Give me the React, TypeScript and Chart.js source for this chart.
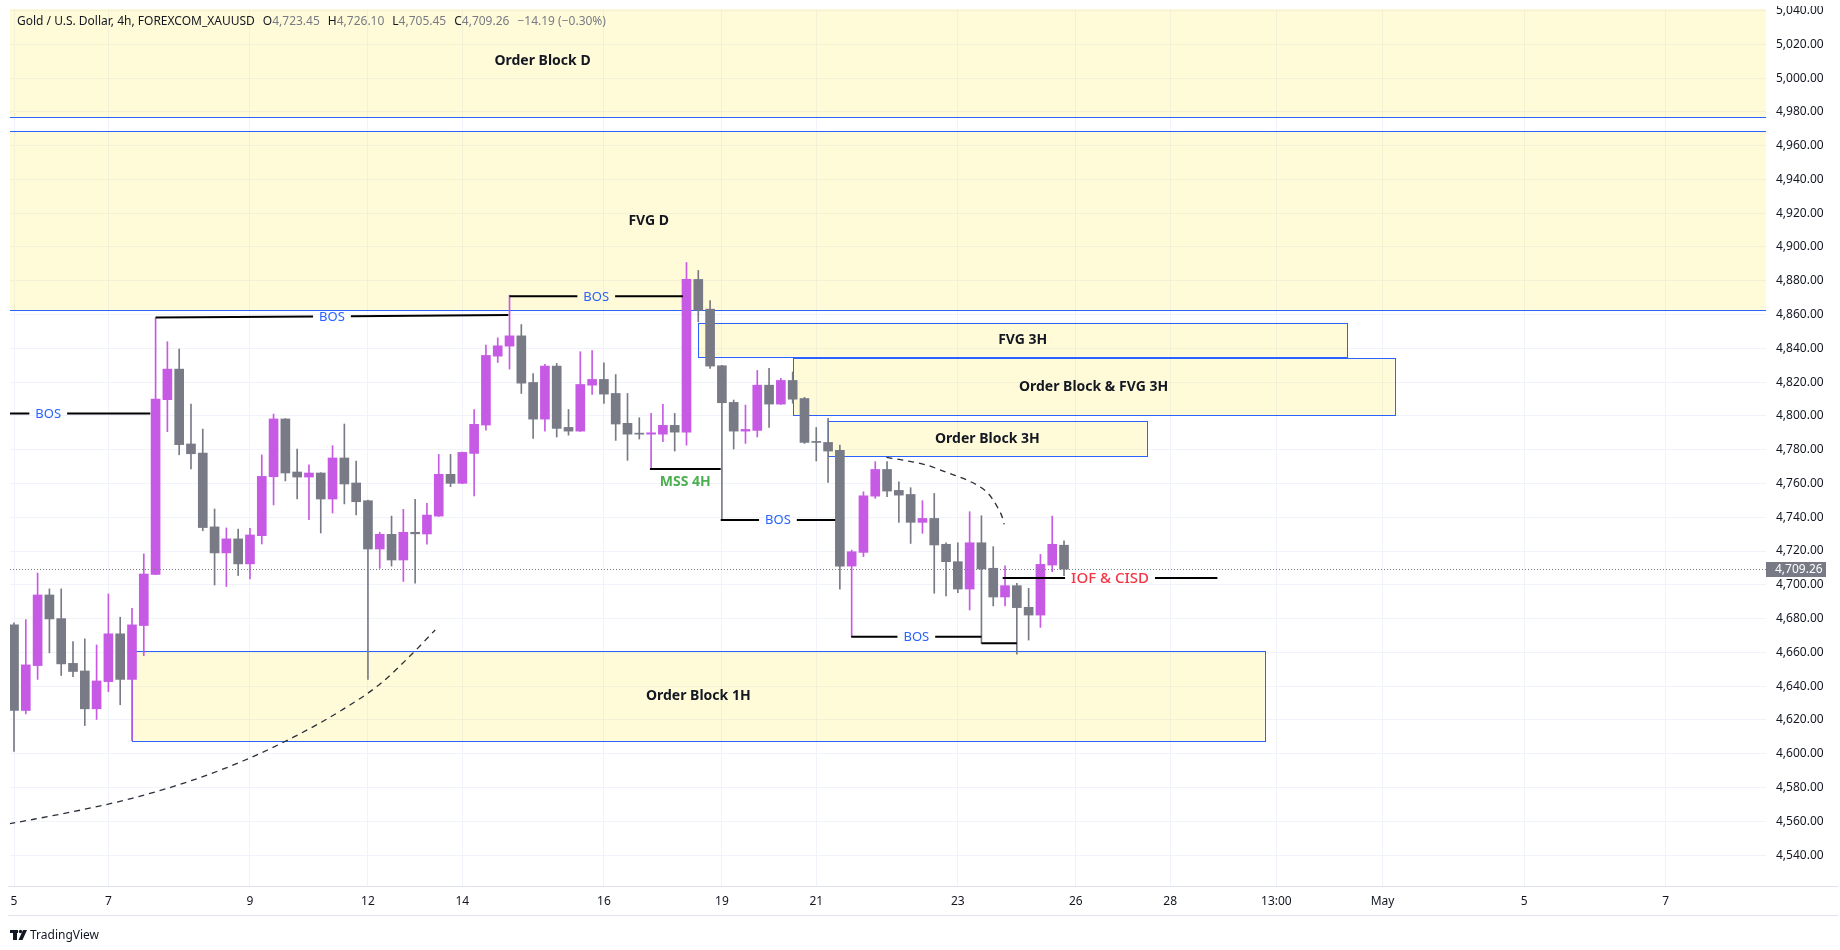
import React, { useEffect, useRef } from 'react';
import { Chart, registerables } from 'chart.js';

Chart.register(...registerables);

// ---------- candle data (4h bars, bar index 0 = Apr 5) ----------
const opens = [
  4676.3, 4625.6, 4652.2, 4694.0, 4680.0, 4653.5, 4649.0, 4626.6, 4642.7, 4671.0,
  4644.0, 4675.9, 4706.2, 4809.6, 4827.7, 4783.4, 4778.0, 4734.3, 4718.9, 4727.2,
  4712.4, 4729.1, 4764.0, 4798.2, 4766.8, 4763.8, 4766.2, 4750.8, 4775.1, 4760.3,
  4749.8, 4721.2, 4729.9, 4714.7, 4731.1, 4730.1, 4740.7, 4765.4, 4760.1, 4777.8,
  4794.6, 4835.4, 4841.3, 4847.4, 4819.8, 4798.1, 4829.5, 4793.2, 4791.0, 4818.2,
  4821.6, 4813.3, 4795.6, 4789.6, 4789.2, 4789.2, 4794.4, 4790.4, 4880.8, 4863.2,
  4829.7, 4808.0, 4791.0, 4791.4, 4818.2, 4807.0, 4821.0, 4810.3, 4784.9, 4784.3,
  4779.6, 4711.1, 4719.2, 4752.5, 4768.3, 4755.9, 4753.5, 4737.0, 4739.3, 4724.0,
  4713.7, 4697.5, 4724.9, 4709.8, 4692.8, 4699.5, 4686.7, 4682.1, 4711.7, 4723.45,
];
const highs = [
  4677.5, 4679.4, 4707.0, 4697.6, 4697.6, 4666.4, 4668.0, 4664.4, 4694.6, 4680.8,
  4686.1, 4718.3, 4858.1, 4843.9, 4839.6, 4807.0, 4792.2, 4744.9, 4733.7, 4733.0,
  4733.5, 4776.9, 4801.1, 4798.4, 4780.4, 4771.0, 4766.4, 4782.4, 4795.2, 4773.3,
  4750.2, 4731.1, 4740.7, 4744.7, 4750.6, 4748.2, 4777.2, 4777.2, 4778.6, 4803.8,
  4841.9, 4846.2, 4871.5, 4854.1, 4825.1, 4830.5, 4831.1, 4803.8, 4838.0, 4838.7,
  4831.4, 4824.5, 4813.3, 4798.9, 4801.5, 4806.8, 4801.5, 4890.8, 4886.1, 4868.3,
  4830.0, 4809.4, 4806.4, 4826.9, 4828.1, 4822.2, 4826.0, 4811.0, 4793.2, 4798.5,
  4782.7, 4720.6, 4755.1, 4772.9, 4772.9, 4761.0, 4757.5, 4749.8, 4754.1, 4724.9,
  4724.9, 4743.3, 4740.9, 4722.6, 4711.3, 4700.9, 4697.9, 4718.0, 4740.7, 4726.10,
];
const lows = [
  4601.3, 4623.6, 4644.0, 4659.7, 4646.3, 4645.7, 4616.7, 4620.3, 4636.8, 4629.0,
  4607.8, 4658.1, 4706.0, 4790.7, 4777.0, 4768.6, 4732.0, 4699.9, 4699.0, 4705.5,
  4703.5, 4724.2, 4747.3, 4761.5, 4750.8, 4738.6, 4730.7, 4742.5, 4747.9, 4741.4,
  4644.0, 4709.8, 4711.1, 4702.0, 4701.0, 4724.1, 4740.5, 4758.1, 4759.9, 4752.6,
  4791.6, 4831.6, 4827.7, 4813.3, 4786.7, 4791.0, 4787.5, 4788.6, 4790.8, 4812.7,
  4807.4, 4785.5, 4773.7, 4786.3, 4768.5, 4784.7, 4779.2, 4782.7, 4855.7, 4828.1,
  4738.4, 4780.4, 4783.7, 4787.5, 4793.2, 4806.8, 4807.5, 4783.7, 4773.3, 4760.6,
  4697.5, 4669.3, 4716.7, 4751.2, 4752.2, 4737.0, 4724.5, 4730.5, 4695.0, 4693.4,
  4695.4, 4685.1, 4665.4, 4687.5, 4687.5, 4658.9, 4667.3, 4674.8, 4707.8, 4705.45,
];
const closes = [
  4625.6, 4652.6, 4694.0, 4679.8, 4653.2, 4648.7, 4626.6, 4643.1, 4671.0, 4644.0,
  4676.3, 4706.4, 4810.0, 4827.7, 4783.0, 4777.6, 4733.9, 4718.9, 4727.2, 4712.4,
  4729.5, 4764.2, 4798.2, 4766.2, 4763.8, 4766.2, 4750.8, 4775.1, 4759.7, 4749.2,
  4721.2, 4729.9, 4714.7, 4731.1, 4730.2, 4741.3, 4765.4, 4760.1, 4778.4, 4795.0,
  4835.8, 4841.5, 4847.4, 4819.4, 4798.1, 4829.5, 4792.6, 4791.0, 4818.6, 4821.6,
  4812.9, 4795.2, 4789.2, 4789.2, 4790.0, 4794.4, 4790.4, 4880.8, 4862.6, 4829.5,
  4807.8, 4791.0, 4792.0, 4818.2, 4807.0, 4821.0, 4809.9, 4784.3, 4784.3, 4779.2,
  4711.1, 4719.6, 4752.7, 4768.3, 4755.5, 4753.1, 4737.0, 4739.3, 4723.6, 4713.7,
  4697.5, 4724.9, 4709.4, 4692.8, 4699.5, 4686.5, 4682.1, 4712.1, 4724.0, 4709.26,
];

// ---------- axes ----------
const xTickBars = [0, 8, 20, 30, 38, 50, 60, 68, 80, 90, 98, 107, 116, 128, 140];
const xTickLabels = ['5', '7', '9', '12', '14', '16', '19', '21', '23', '26', '28', '13:00', 'May', '5', '7'];
const yTickValues = [
  4540, 4560, 4580, 4600, 4620, 4640, 4660, 4680, 4700, 4720, 4740, 4760, 4780,
  4800, 4820, 4840, 4860, 4880, 4900, 4920, 4940, 4960, 4980, 5000, 5020, 5040,
];
const xMin = -0.34;
const xMax = 148.5;
const yMin = 4521.7;
const yMax = 5040.9;

// ---------- zones (rectangles) ----------
const boxNames = ['Order Block D', 'FVG D', 'FVG 3H', 'Order Block & FVG 3H', 'Order Block 3H', 'Order Block 1H'];
const boxStart = [-20, -20, 58, 66, 69, 10];
const boxEnd = [200, 200, 113, 117, 96, 106];
const boxTop = [5100, 4968.5, 4855.3, 4834.2, 4797.0, 4660.9];
const boxBottom = [4977.0, 4862.6, 4835.1, 4800.5, 4776.0, 4607.6];
const boxLabelBar = [44.8, 53.8, 85.5, 91.5, 82.5, 58];
const boxLabelPrice = [5010.2, 4915.6, 4845.2, 4817.4, 4786.5, 4634.2];

// ---------- structure levels ----------
const levelNames = ['BOS', 'BOS', 'BOS', 'MSS 4H', 'BOS', 'BOS', '', 'IOF & CISD'];
const levelKinds = ['bos', 'bos', 'bos', 'mss', 'bos', 'bos', 'plain', 'iof'];
const levelStart = [-5.75, 12, 42, 53.9, 59.9, 70.96, 82, 83.8];
const levelEnd = [11.55, 41.9, 56.7, 59.9, 69.6, 82.0, 85, 102];
const levelPriceStart = [4801.5, 4858.2, 4870.8, 4768.5, 4738.4, 4669.3, 4665.4, 4704.0];
const levelPriceEnd = [4801.5, 4859.7, 4870.8, 4768.5, 4738.4, 4669.3, 4665.4, 4704.0];

// ---------- dashed curves ----------
const lowerCurveBars = [-0.4, 5.7, 10.0, 15.0, 19.4, 23.6, 27.8, 31.1, 33.8, 35.7];
const lowerCurvePrices = [4558.5, 4566.7, 4573.6, 4584.0, 4595.7, 4609.5, 4625.9, 4641.7, 4659.5, 4673.3];
const upperCurveBars = [73.95, 75.37, 77.35, 79.04, 80.45, 81.72, 82.43, 83.0, 83.41, 83.78, 83.92];
const upperCurvePrices = [4775.4, 4773.8, 4770.9, 4766.6, 4763.0, 4758.7, 4755.1, 4750.2, 4745.3, 4739.7, 4735.8];

// ---------- header ----------
const symbolTitle = 'Gold / U.S. Dollar, 4h, FOREXCOM_XAUUSD';
const lastChange = -14.19;
const lastChangePct = -0.3;

const FONT = '"Noto Sans", "Liberation Sans", sans-serif';
const BULL = '#c65ae4';
const BEAR = '#787b86';
const BLUE = '#2962ff';
const ZONE_FILL = 'rgba(254, 236, 80, 0.22)';
const TEXT = '#131722';

const fmt = (v: number) =>
  v.toLocaleString('en-US', { minimumFractionDigits: 2, maximumFractionDigits: 2 });

const crisp = (v: number) => Math.round(v) + 0.5;

const overlayPlugin = {
  id: 'tvOverlay',
  beforeDatasetsDraw(chart: any) {
    const { ctx, chartArea: a, scales } = chart;
    const x = scales.x;
    const y = scales.y;
    ctx.save();
    ctx.beginPath();
    ctx.rect(a.left, a.top, a.right - a.left, a.bottom - a.top);
    ctx.clip();
    for (let i = 0; i < boxNames.length; i++) {
      const x1 = x.getPixelForValue(boxStart[i]);
      const x2 = x.getPixelForValue(boxEnd[i]);
      const y1 = y.getPixelForValue(boxTop[i]);
      const y2 = y.getPixelForValue(boxBottom[i]);
      ctx.fillStyle = ZONE_FILL;
      ctx.fillRect(x1, y1, x2 - x1, y2 - y1);
      ctx.strokeStyle = BLUE;
      ctx.lineWidth = 1;
      ctx.strokeRect(crisp(x1), crisp(y1), Math.round(x2 - x1), Math.round(y2 - y1));
    }
    ctx.restore();
  },
  afterDatasetsDraw(chart: any) {
    const { ctx, chartArea: a, scales } = chart;
    const x = scales.x;
    const y = scales.y;
    ctx.save();
    ctx.beginPath();
    ctx.rect(a.left, a.top, a.right - a.left, a.bottom - a.top);
    ctx.clip();

    // current price dotted line
    const lastClose = closes[closes.length - 1];
    const py = crisp(y.getPixelForValue(lastClose));
    ctx.strokeStyle = '#787b86';
    ctx.lineWidth = 1;
    ctx.setLineDash([1, 2]);
    ctx.beginPath();
    ctx.moveTo(a.left, py);
    ctx.lineTo(a.right, py);
    ctx.stroke();
    ctx.setLineDash([]);

    // structure levels
    for (let i = 0; i < levelNames.length; i++) {
      const x1 = x.getPixelForValue(levelStart[i]);
      const x2 = x.getPixelForValue(levelEnd[i]);
      const y1 = y.getPixelForValue(levelPriceStart[i]);
      const y2 = y.getPixelForValue(levelPriceEnd[i]);
      const kind = levelKinds[i];
      const text = levelNames[i];
      const yAt = (px: number) => y1 + ((px - x1) / (x2 - x1)) * (y2 - y1);
      ctx.strokeStyle = '#000000';
      ctx.lineWidth = 2;
      if (kind === 'bos' || kind === 'iof') {
        if (kind === 'bos') {
          ctx.font = `13px ${FONT}`;
          ctx.fillStyle = BLUE;
        } else {
          ctx.font = `500 15px ${FONT}`;
          ctx.fillStyle = '#f23645';
        }
        const w = ctx.measureText(text).width;
        const cx = (x1 + x2) / 2;
        const gap = w / 2 + 6;
        ctx.beginPath();
        ctx.moveTo(x1, yAt(x1));
        ctx.lineTo(cx - gap, yAt(cx - gap));
        ctx.moveTo(cx + gap, yAt(cx + gap));
        ctx.lineTo(x2, yAt(x2));
        ctx.stroke();
        ctx.textAlign = 'center';
        ctx.textBaseline = 'middle';
        ctx.fillText(text, cx, yAt(cx) + 0.5);
      } else {
        ctx.beginPath();
        ctx.moveTo(x1, y1);
        ctx.lineTo(x2, y2);
        ctx.stroke();
        if (kind === 'mss') {
          ctx.font = `bold 14px ${FONT}`;
          ctx.fillStyle = '#4caf50';
          ctx.textAlign = 'center';
          ctx.textBaseline = 'middle';
          ctx.fillText(text, (x1 + x2) / 2, (y1 + y2) / 2 + 13);
        }
      }
    }

    // zone labels
    ctx.font = `bold 14px ${FONT}`;
    ctx.fillStyle = TEXT;
    ctx.textAlign = 'center';
    ctx.textBaseline = 'middle';
    for (let i = 0; i < boxNames.length; i++) {
      ctx.fillText(boxNames[i], x.getPixelForValue(boxLabelBar[i]), y.getPixelForValue(boxLabelPrice[i]));
    }
    ctx.restore();

    // axis separators
    ctx.save();
    ctx.strokeStyle = '#e0e3eb';
    ctx.lineWidth = 1;
    ctx.beginPath();
    ctx.moveTo(8, crisp(a.bottom));
    ctx.lineTo(1838, crisp(a.bottom));
    ctx.moveTo(8, 915.5);
    ctx.lineTo(1838, 915.5);
    ctx.stroke();

    // price label on the axis
    ctx.fillStyle = '#787b86';
    ctx.fillRect(a.right, py - 7.5, 60, 15);
    ctx.fillStyle = '#ffffff';
    ctx.font = `12px ${FONT}`;
    ctx.textAlign = 'left';
    ctx.textBaseline = 'middle';
    ctx.fillText(fmt(lastClose), a.right + 9, py + 0.5);

    // top edge of the snapshot frame
    ctx.fillStyle = '#ffffff';
    ctx.fillRect(a.right, 0, 1840 - a.right, 6);

    // header legend
    const last = closes.length - 1;
    let hx = 17;
    const hy = 22;
    ctx.font = `12px ${FONT}`;
    ctx.textBaseline = 'middle';
    ctx.fillStyle = TEXT;
    ctx.fillText(symbolTitle, hx, hy);
    hx += ctx.measureText(symbolTitle).width + 8;
    const parts: [string, number][] = [
      ['O', opens[last]],
      ['H', highs[last]],
      ['L', lows[last]],
      ['C', closes[last]],
    ];
    for (const [k, v] of parts) {
      ctx.fillStyle = TEXT;
      ctx.fillText(k, hx, hy);
      hx += ctx.measureText(k).width;
      ctx.fillStyle = BEAR;
      const s = fmt(v);
      ctx.fillText(s, hx, hy);
      hx += ctx.measureText(s).width + 8;
    }
    ctx.fillStyle = BEAR;
    const chg = `\u2212${Math.abs(lastChange).toFixed(2)} (\u2212${Math.abs(lastChangePct).toFixed(2)}%)`;
    ctx.fillText(chg, hx, hy);

    // TradingView logo
    ctx.fillStyle = TEXT;
    ctx.fillRect(10, 930, 8, 3);
    ctx.fillRect(13, 930, 4, 10);
    ctx.beginPath();
    ctx.arc(20.5, 931.5, 1.7, 0, Math.PI * 2);
    ctx.fill();
    ctx.beginPath();
    ctx.moveTo(23, 930);
    ctx.lineTo(27, 930);
    ctx.lineTo(22.5, 940);
    ctx.lineTo(18.5, 940);
    ctx.closePath();
    ctx.fill();
    ctx.font = `12px ${FONT}`;
    ctx.textAlign = 'left';
    ctx.fillText('TradingView', 30, 935.5);
    ctx.restore();
  },
};

export default function App() {
  const canvasRef = useRef<HTMLCanvasElement | null>(null);

  useEffect(() => {
    document.body.style.margin = '0';
    const canvas = canvasRef.current;
    if (!canvas) return;

    const bodies = opens.map((o, i) => ({ x: i, y: [o, closes[i]] }));
    const wicks = lows.map((l, i) => ({ x: i, y: [l, highs[i]] }));
    const colors = opens.map((o, i) => (closes[i] >= o ? BULL : BEAR));

    const chart = new Chart(canvas, {
      type: 'bar',
      data: {
        datasets: [
          {
            type: 'bar',
            data: bodies as any,
            backgroundColor: colors,
            borderWidth: 0,
            barThickness: 9,
            minBarLength: 1,
            grouped: false,
          } as any,
          {
            type: 'bar',
            data: wicks as any,
            backgroundColor: colors,
            borderWidth: 0,
            barThickness: 1,
            grouped: false,
          } as any,
          {
            type: 'line',
            data: lowerCurveBars.map((b, i) => ({ x: b, y: lowerCurvePrices[i] })),
            borderColor: '#2a2e39',
            borderWidth: 1.3,
            borderDash: [6, 5],
            pointRadius: 0,
            cubicInterpolationMode: 'monotone',
            fill: false,
          } as any,
          {
            type: 'line',
            data: upperCurveBars.map((b, i) => ({ x: b, y: upperCurvePrices[i] })),
            borderColor: '#2a2e39',
            borderWidth: 1.3,
            borderDash: [6, 5],
            pointRadius: 0,
            cubicInterpolationMode: 'monotone',
            fill: false,
          } as any,
        ],
      },
      options: {
        animation: false,
        responsive: false,
        devicePixelRatio: 1,
        events: [],
        layout: { padding: { left: 10, top: 9, right: 0, bottom: 35 } },
        plugins: { legend: { display: false }, tooltip: { enabled: false } },
        scales: {
          x: {
            type: 'linear',
            min: xMin,
            max: xMax,
            offset: false,
            afterBuildTicks: (s: any) => {
              s.ticks = xTickBars.map((v) => ({ value: v }));
            },
            afterFit: (s: any) => {
              s.height = 29;
            },
            grid: { color: '#f0f3fa', offset: false, drawTicks: true, tickLength: 8, tickColor: 'rgba(0,0,0,0)' },
            border: { display: false },
            ticks: {
              autoSkip: false,
              maxRotation: 0,
              padding: 0,
              color: TEXT,
              font: { family: FONT, size: 12 },
              callback: (_v: any, i: number) => xTickLabels[i],
            },
          },
          y: {
            type: 'linear',
            position: 'right',
            min: yMin,
            max: yMax,
            afterBuildTicks: (s: any) => {
              s.ticks = yTickValues.map((v) => ({ value: v }));
            },
            afterFit: (s: any) => {
              s.width = 74;
            },
            grid: { color: '#f0f3fa', offset: false, drawTicks: true, tickLength: 10, tickColor: 'rgba(0,0,0,0)' },
            border: { display: false },
            ticks: {
              padding: 0,
              color: TEXT,
              font: { family: FONT, size: 12 },
              callback: (v: any) => fmt(Number(v)),
            },
          },
        },
      },
      plugins: [overlayPlugin],
    } as any);

    return () => chart.destroy();
  }, []);

  return (
    <div style={{ width: 1840, height: 950, background: '#ffffff' }}>
      <canvas ref={canvasRef} width={1840} height={950} style={{ display: 'block' }} />
    </div>
  );
}
